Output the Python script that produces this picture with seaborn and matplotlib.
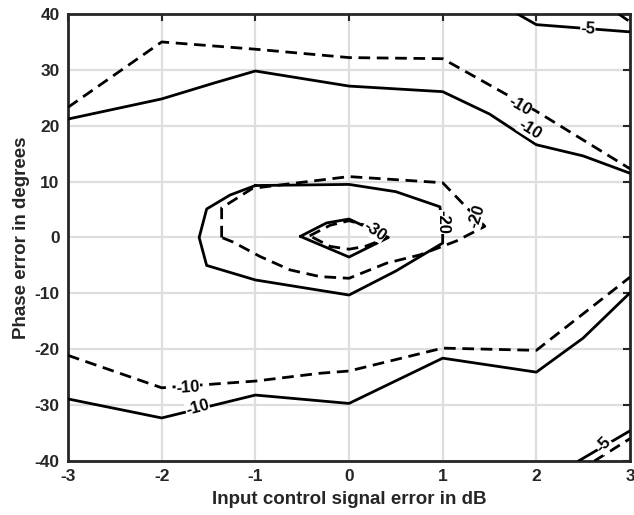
import matplotlib
matplotlib.use("Agg")
import matplotlib.pyplot as plt
import seaborn as sns
import pandas as pd

# ---- contour line vertices ----
top_solid10_x = [-3, -2, -1.45, -1, 0, 1, 1.5, 2, 2.5, 3]
top_solid10_y = [21.2, 24.8, 27.6, 29.8, 27.1, 26.1, 22.1, 16.6, 14.6, 11.5]
top_dash10_x = [-3, -2, -1, 0, 1, 2, 3]
top_dash10_y = [23.3, 35.0, 33.7, 32.2, 32.0, 22.6, 12.3]
top_solid5_x = [1.8, 2, 3]
top_solid5_y = [40.0, 38.1, 36.8]
top_dash5_x = [2.88, 3]
top_dash5_y = [40.0, 38.6]
bot_solid10_x = [-3, -2, -1, 0, 1, 2, 2.5, 3]
bot_solid10_y = [-28.9, -32.3, -28.2, -29.7, -21.6, -24.1, -18.0, -9.9]
bot_dash10_x = [-3, -2, -1, -0.31, 0, 1, 2, 3]
bot_dash10_y = [-21.1, -26.9, -25.7, -24.3, -23.9, -19.8, -20.2, -7.1]
bot_solid5_x = [2.45, 3]
bot_solid5_y = [-40.0, -34.6]
bot_dash5_x = [2.62, 3]
bot_dash5_y = [-40.0, -36.0]
solid20_x = [-1, 0, 0.5, 0.97, 1.0, 1.0, 0.5, 0, -1, -1.52, -1.6, -1.52, -1.27, -1]
solid20_y = [9.3, 9.5, 8.2, 5.5, 2.0, -1.0, -6.0, -10.3, -7.6, -5.0, 0.0, 5.1, 7.6, 9.3]
dash20_x = [-1.36, -1.36, -1.03, 0, 1, 1.45, 1.15, 0.76, 0.4, 0, -0.31, -0.63, -0.95, -1.24, -1.36]
dash20_y = [0.0, 5.3, 8.8, 10.9, 9.8, 2.0, -0.6, -3.1, -4.6, -7.3, -7.0, -5.8, -3.4, -0.8, 0.0]
solid30_x = [-0.52, -0.24, 0, 0.42, 0, -0.52]
solid30_y = [0.2, 2.6, 3.3, 0.0, -3.5, 0.2]
dash30_x = [-0.42, -0.2, 0, 0.3, 0.36, 0.17, 0, -0.2, -0.42]
dash30_y = [0.3, 2.2, 3.0, 1.6, -0.4, -1.6, -2.1, -1.6, 0.3]

# contour labels: text, x, y, rotation
label_text = ["-5", "-10", "-10", "-20", "-20", "-30", "-10", "-10", "-5"]
label_x = [2.55, 1.82, 1.93, 1.0, 1.36, 0.27, -1.72, -1.62, 2.72]
label_y = [37.4, 23.6, 19.3, 2.8, 3.8, 1.2, -26.8, -30.4, -37.1]
label_rot = [-3, -30, -32, -90, 72, -35, 4, 15, 45]

x_ticks = [-3, -2, -1, 0, 1, 2, 3]
y_ticks = [-40, -30, -20, -10, 0, 10, 20, 30, 40]

sns.set_style("white")
plt.rcParams['font.family'] = ['Liberation Sans', 'DejaVu Sans']
plt.rcParams['font.weight'] = 'bold'

fig = plt.figure(figsize=(6.34, 5.15), dpi=100)
ax = fig.add_axes([0.1073, 0.1049, 0.8864, 0.8679])

solid_lines = [(top_solid10_x, top_solid10_y), (top_solid5_x, top_solid5_y),
               (bot_solid10_x, bot_solid10_y), (bot_solid5_x, bot_solid5_y),
               (solid20_x, solid20_y), (solid30_x, solid30_y)]
dash_lines = [(top_dash10_x, top_dash10_y), (top_dash5_x, top_dash5_y),
              (bot_dash10_x, bot_dash10_y), (bot_dash5_x, bot_dash5_y),
              (dash20_x, dash20_y), (dash30_x, dash30_y)]

for xs, ys in solid_lines:
    df = pd.DataFrame({"x": xs, "y": ys})
    sns.lineplot(data=df, x="x", y="y", sort=False, estimator=None, color="black",
                 linewidth=2.0, ax=ax, zorder=3)
for xs, ys in dash_lines:
    df = pd.DataFrame({"x": xs, "y": ys})
    sns.lineplot(data=df, x="x", y="y", sort=False, estimator=None, color="black",
                 linewidth=2.0, ax=ax, zorder=3)
    ax.lines[-1].set_linestyle((0, (4.2, 2.4)))

for t, lx, ly, r in zip(label_text, label_x, label_y, label_rot):
    ax.text(lx, ly, t, rotation=r, ha="center", va="center", fontsize=12,
            fontweight="bold", color="black", zorder=4, rotation_mode="anchor",
            bbox=dict(facecolor="white", edgecolor="none", pad=0.3))

ax.set_xlim(-3, 3)
ax.set_ylim(-40, 40)
ax.set_xticks(x_ticks)
ax.set_yticks(y_ticks)
ax.set_xticklabels([str(v) for v in x_ticks], fontweight="bold")
ax.set_yticklabels([str(v) for v in y_ticks], fontweight="bold")
ax.grid(True, color="#dedede", linewidth=1.6, zorder=0)
ax.set_axisbelow(True)
ax.tick_params(direction="in", length=5, width=1.5, top=True, right=True,
               labelsize=12.5, colors="#262626", pad=6)
for s in ax.spines.values():
    s.set_color("#262626")
    s.set_linewidth(2.0)
ax.set_xlabel("Input control signal error in dB", fontsize=13.5, fontweight="bold",
              color="#262626", labelpad=5)
ax.set_ylabel("Phase error in degrees", fontsize=13.5, fontweight="bold",
              color="#262626", labelpad=3)

fig.savefig("out.png", dpi=100)
